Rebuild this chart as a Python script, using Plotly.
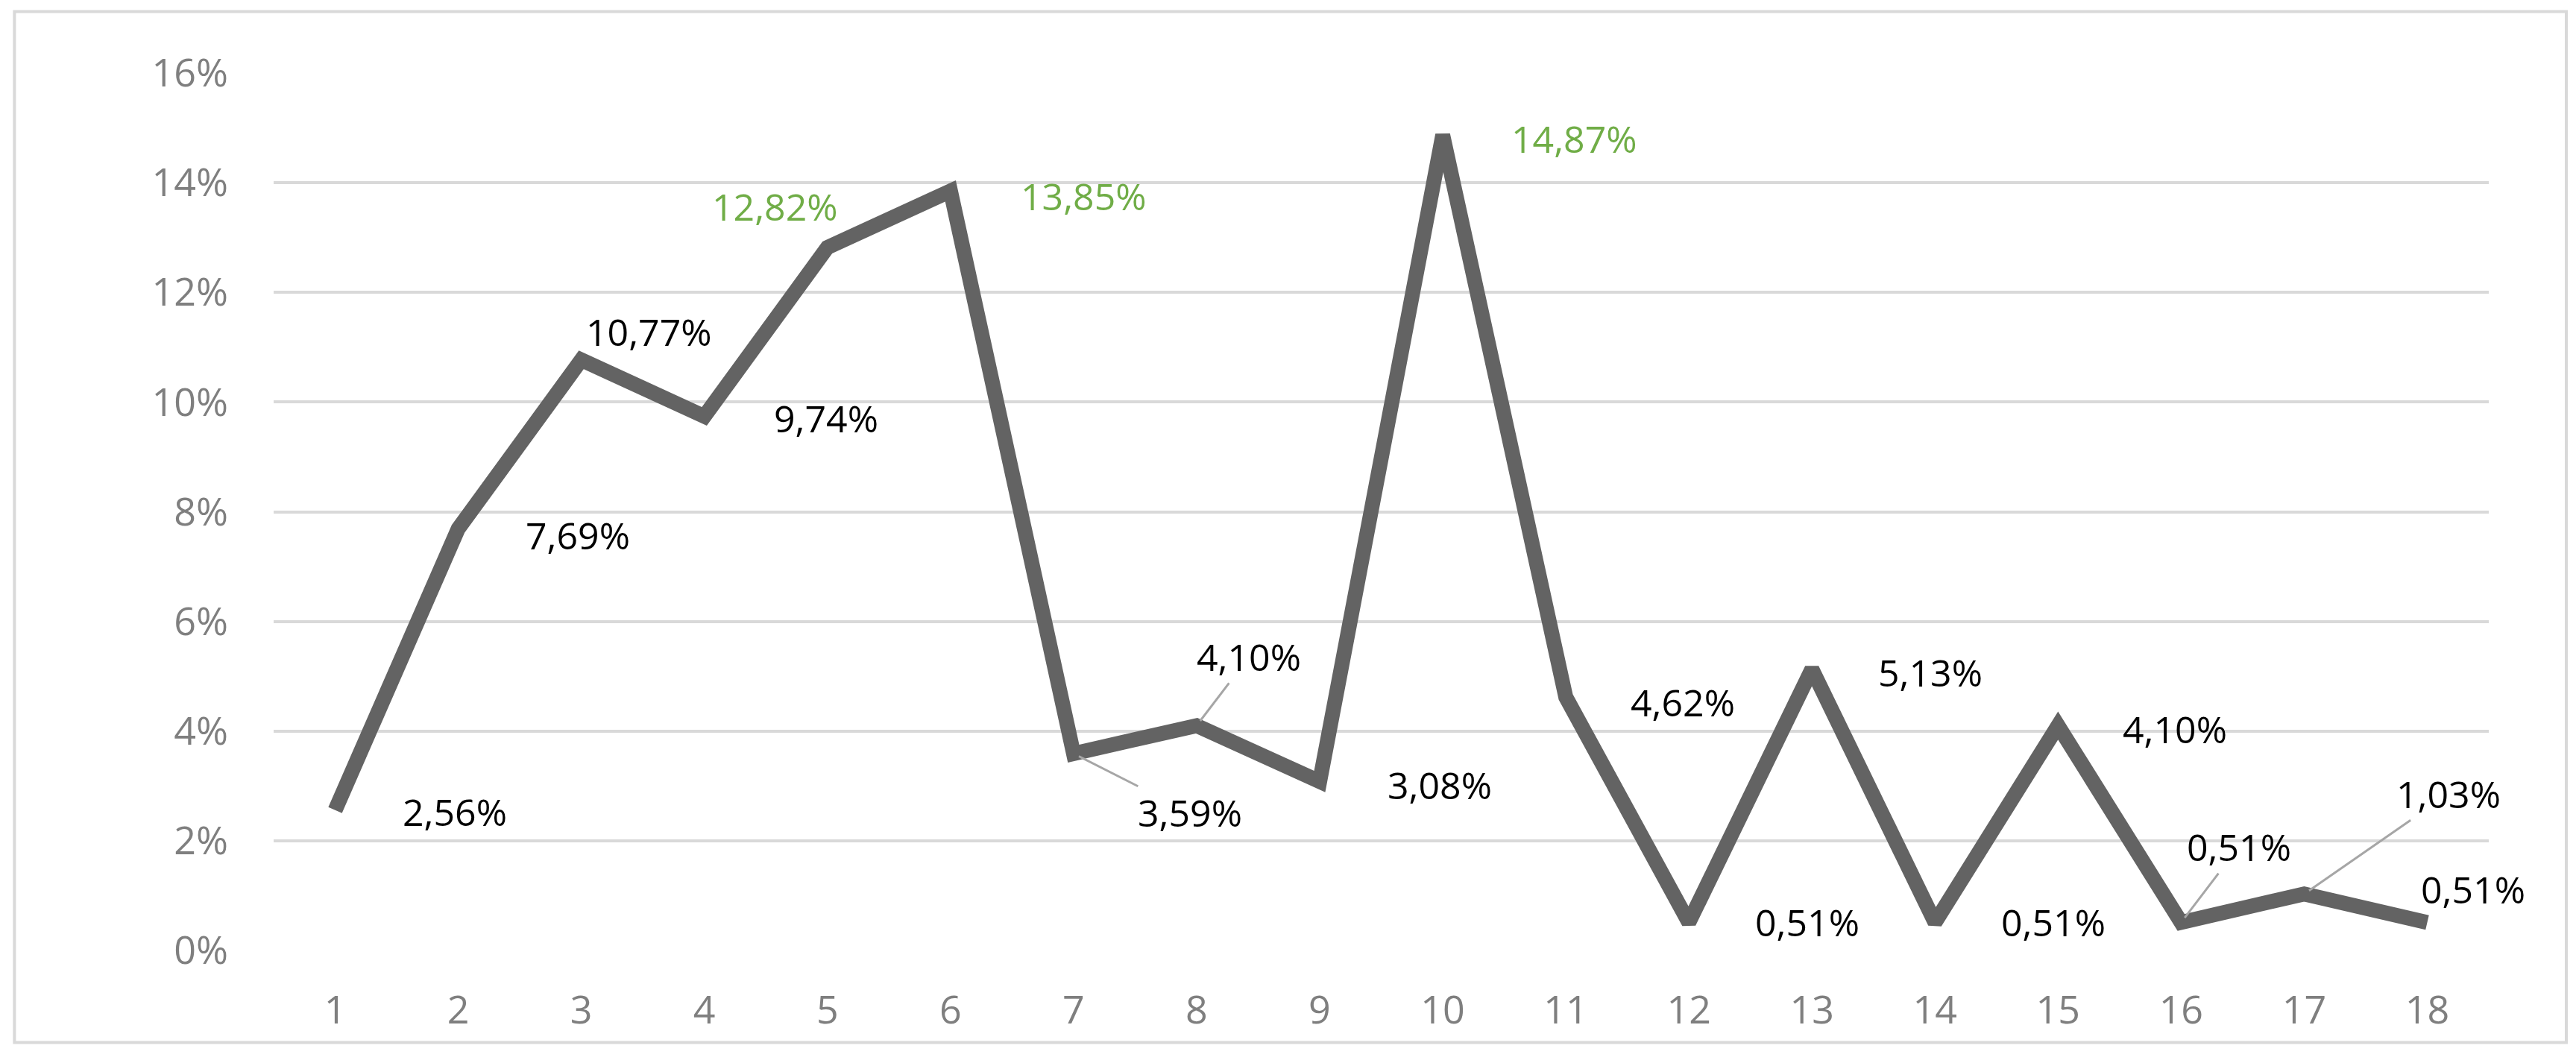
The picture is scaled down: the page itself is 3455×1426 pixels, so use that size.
import plotly.graph_objects as go

categories = list(range(1, 19))
values = [2.56, 7.69, 10.77, 9.74, 12.82, 13.85, 3.59, 4.10, 3.08, 14.87, 4.62, 0.51, 5.13, 0.51, 4.10, 0.51, 1.03, 0.51]
labels = ["2,56%", "7,69%", "10,77%", "9,74%", "12,82%", "13,85%", "3,59%", "4,10%", "3,08%",
          "14,87%", "4,62%", "0,51%", "5,13%", "0,51%", "4,10%", "0,51%", "1,03%", "0,51%"]
green = [5, 6, 10]
leaders = [7, 8, 16, 17]
# label offsets (display px) relative to the point
offsets = [(73, 1), (73, 4), (41, -17), (74, 1), (-32, -25), (81, 3), (71, 36), (32, -42), (73, 2),
           (80, 2), (71, 3), (72, 0), (72, 2), (72, 0), (71, 2), (35, -46), (88, -61), (28, -20)]
S = 2.204

fig = go.Figure(go.Scatter(x=categories, y=values, mode="lines",
                           line=dict(color="#636363", width=20), hoverinfo="skip"))

for c, v, t, (dx, dy) in zip(categories, values, labels, offsets):
    fig.add_annotation(x=c, y=v, text=t, showarrow=True, ax=dx * S, ay=dy * S,
                       arrowhead=0, arrowwidth=3, standoff=8,
                       arrowcolor="#a6a6a6" if c in leaders else "rgba(0,0,0,0)",
                       font=dict(size=50, color="#70ad47" if c in green else "#000000",
                                 family="Open Sans"))

fig.add_shape(type="rect", xref="paper", yref="paper", x0=-0.117, x1=1.035, y0=-0.105, y1=1.07,
              line=dict(color="#d9d9d9", width=4))

fig.update_layout(
    width=3455, height=1426, paper_bgcolor="white", plot_bgcolor="white",
    margin=dict(l=359, r=125, t=90, b=159), showlegend=False,
    font=dict(family="Open Sans", size=52, color="#7f7f7f"),
    xaxis=dict(range=[0.5, 18.5], tickvals=categories, showgrid=False, zeroline=False,
               showline=False, ticks="", ticklabelstandoff=45),
    yaxis=dict(range=[0, 16], tickvals=[0, 2, 4, 6, 8, 10, 12, 14, 16],
               ticktext=[f"{v}%" for v in range(0, 17, 2)], showgrid=True,
               gridcolor="#d9d9d9", gridwidth=4, zeroline=False, ticks="",
               ticklabelstandoff=60),
)
fig.write_html("out.html")
